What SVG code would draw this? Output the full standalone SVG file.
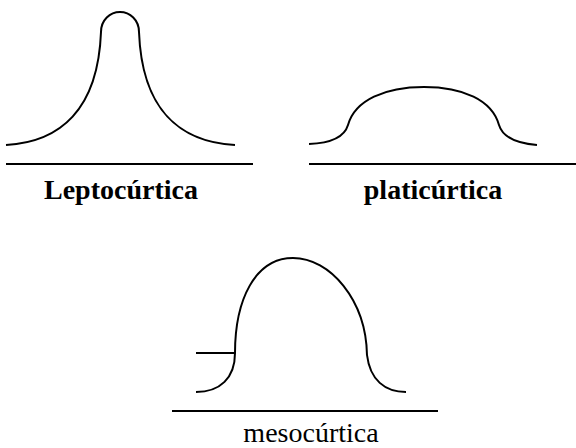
<svg xmlns="http://www.w3.org/2000/svg" width="576" height="448" viewBox="0 0 576 448">
<style>
.c{fill:none;stroke:#000;stroke-width:2}
.b{fill:none;stroke:#000;stroke-width:2}
.t{font-family:"Liberation Serif","Times New Roman",serif;font-size:28px;fill:#000;text-anchor:middle}
.bold{font-weight:bold}
</style>
<rect width="576" height="448" fill="#fff"/>
<g id="lepto">
<path class="c" d="M6,145 C60,142 98,110 101,32 C101,20 110,12 120,12 C130,12 139,20 139,32 C142,110 180,142 235,145"/>
<line class="b" x1="6" y1="164" x2="253" y2="164"/>
<text class="t bold" x="121" y="199">Leptocúrtica</text>
</g>
<g id="plati">
<path class="c" d="M309,144 C335,143 345,135 348,125 C355,100 385,87 424,87 C463,87 492,100 499,125 C502,135 512,143 537,145"/>
<line class="b" x1="309" y1="164" x2="576" y2="164"/>
<text class="t bold" x="433" y="199">platicúrtica</text>
</g>
<g id="meso">
<path class="c" d="M196,392 C220,392 235,378 235,353 C235,300 255,258 293,258 C330,258 366,300 367,355 C370,380 385,392 406,392"/>
<line class="c" x1="196" y1="353" x2="235" y2="353"/>
<line class="b" x1="172" y1="411" x2="438" y2="411"/>
<text class="t" x="311" y="442">mesocúrtica</text>
</g>
</svg>
